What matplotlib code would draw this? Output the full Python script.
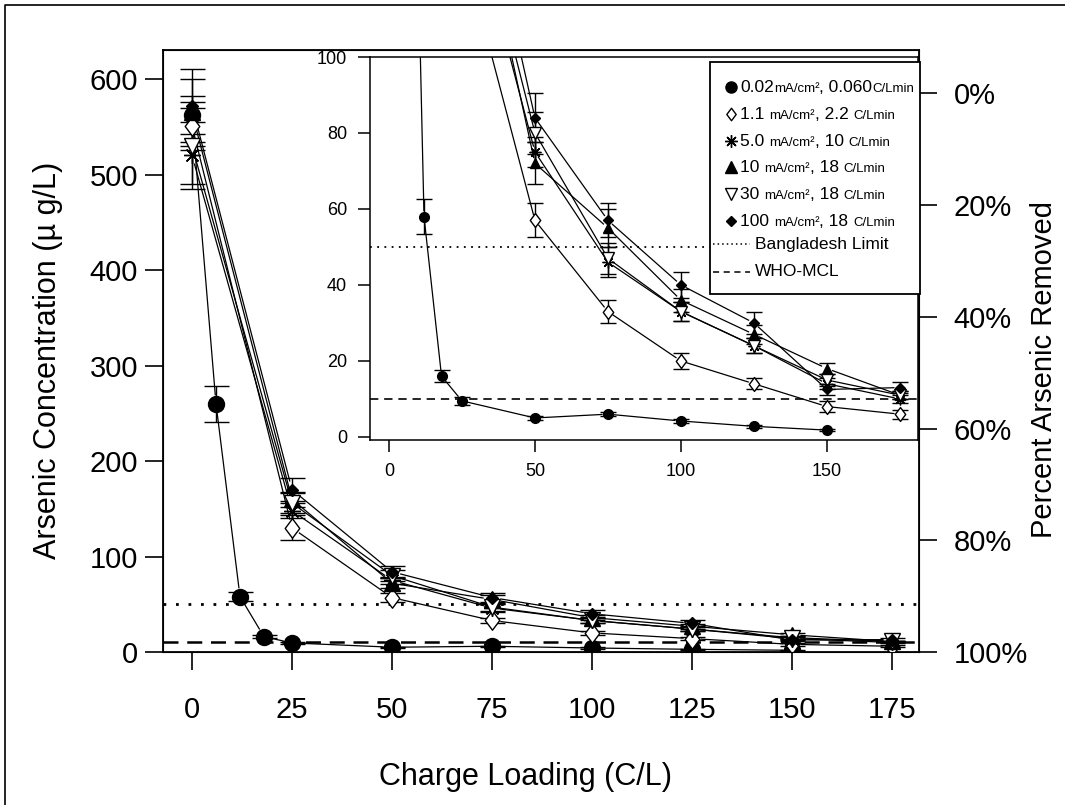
import numpy as np
import matplotlib
matplotlib.use('Agg')
import matplotlib.pyplot as plt
from matplotlib.lines import Line2D
from matplotlib.patches import Rectangle
from matplotlib.path import Path as MPath

plt.rcParams['font.family'] = ['Liberation Sans', 'DejaVu Sans']

# ---- data ----
x_low = [0, 6, 12, 18, 25, 50, 75, 100, 125, 150]
y_low = [562, 260, 58, 16, 9.5, 5, 6, 4.2, 2.8, 1.8]
e_low = [20, 19, 4.5, 1.5, 1, 0.6, 0.6, 0.6, 0.4, 0.3]

x_std = [0, 25, 50, 75, 100, 125, 150, 175]
y_1 = [551, 130, 57, 33, 20, 14, 8, 6]
e_1 = [25, 13, 4.5, 3, 2, 1.5, 1.5, 1.2]
y_5 = [520, 148, 75, 46, 33, 24, 14, 10]
e_5 = [35, 8, 4, 4, 2.5, 2, 1.5, 1]
y_10 = [565, 160, 72, 55, 36, 27, 18, 11]
e_10 = [35, 8, 5.5, 5, 3, 2.5, 1.5, 1]
y_30 = [530, 156, 80, 47, 33, 24, 15, 11]
e_30 = [40, 10, 5.5, 4, 2.5, 2, 1.5, 1]
y_100 = [572, 170, 84, 57, 40, 30, 12.5, 13]
e_100 = [38, 12, 6.5, 4.5, 3.5, 3, 1.5, 1.5]

bangladesh = 50
who_mcl = 10
c0 = 585.0  # concentration that maps to 0 % removed

leg_current = ['0.02', '1.1 ', '5.0 ', '10 ', '30 ', '100 ']
leg_rate = [', 0.060', ', 2.2 ', ', 10 ', ', 18 ', ', 18 ', ', 18 ']

W, H = 1065, 805
fig = plt.figure(figsize=(W / 100, H / 100), dpi=100)


def fx(px):
    return px / W


def fy(py):
    return 1 - py / H


diamond = MPath([(0, 1), (0.75, 0), (0, -1), (-0.75, 0), (0, 1)],
                [1, 2, 2, 2, 79])
styles = [
    dict(marker='o', mfc='k'),
    dict(marker=diamond, mfc='white'),
    dict(marker=(8, 2, 0), mfc='k'),
    dict(marker='^', mfc='k'),
    dict(marker='v', mfc='white'),
    dict(marker='D', mfc='k'),
]
msize_main = [11.5, 14, 12, 11, 12, 6.5]
msize_ins = [7, 10, 8.5, 7.5, 8, 5]


def gap_plot(ax, x, y, gap):
    pts = ax.transData.transform(np.column_stack([x, y]))
    inv = ax.transData.inverted()
    for p0, p1 in zip(pts[:-1], pts[1:]):
        d = np.hypot(*(p1 - p0))
        if d <= 2 * gap:
            continue
        u = (p1 - p0) / d
        seg = inv.transform(np.array([p0 + u * gap, p1 - u * gap]))
        ax.plot(seg[:, 0], seg[:, 1], color='k', lw=0.9, zorder=2)


def draw_series(ax, sizes, gap, cap):
    data = [(x_low, y_low, e_low), (x_std, y_1, e_1), (x_std, y_5, e_5),
            (x_std, y_10, e_10), (x_std, y_30, e_30), (x_std, y_100, e_100)]
    for (x, y, e), st, ms in zip(data, styles, sizes):
        gap_plot(ax, x, y, gap)
        ax.errorbar(x, y, yerr=e, fmt='none', ecolor='k', elinewidth=1.0,
                    capsize=cap, capthick=1.0, zorder=3)
        ax.plot(x, y, ls='none', marker=st['marker'], mfc=st['mfc'],
                mec='k', mew=1.0, ms=ms, zorder=4)


# ---- page frame ----
fig.add_artist(Line2D([fx(5), fx(5), 1.0], [0.0, fy(5), fy(5)],
                      transform=fig.transFigure, color='k', lw=1.2))

# ---- main axes ----
ax = fig.add_axes([fx(163), fy(652), fx(919) - fx(163), fy(50) - fy(652)])
ax.set_xlim(-7.25, 181.75)
ax.set_ylim(0, 630.4)
ax.set_xticks(range(0, 176, 25))
ax.set_yticks(range(0, 601, 100))
ax.tick_params(direction='out', length=13, width=1.2, labelsize=21, pad=5)
ax.tick_params(axis='x', pad=19)
for s in ax.spines.values():
    s.set_linewidth(1.3)
ax.axhline(bangladesh, color='k', ls=(0, (1, 3.5)), lw=2, zorder=1)
ax.axhline(who_mcl, color='k', ls=(0, (6, 3.5)), lw=1.8, zorder=1)
draw_series(ax, msize_main, 9, 9)
ax.set_ylabel('Arsenic Concentration (µ g/L)', fontsize=22)
ax.yaxis.set_label_coords(-0.132, 0.485)
ax.set_xlabel('Charge Loading (C/L)', fontsize=22)
ax.xaxis.set_label_coords(0.48, -0.182)

# right axis: percent removed
ax2 = ax.twinx()
ax2.set_ylim(100, 100 * (1 - 630.4 / c0))
ax2.set_yticks(range(0, 101, 20))
ax2.set_yticklabels([f'{v}%' for v in range(0, 101, 20)])
ax2.tick_params(direction='out', length=13, width=1.2, labelsize=21, pad=12)
ax2.set_ylabel('Percent Arsenic Removed', fontsize=21, rotation=90)
ax2.yaxis.set_label_coords(1.147, 0.47)

# ---- inset ----
ins = fig.add_axes([fx(370), fy(440), fx(918) - fx(370), fy(57) - fy(440)])
ins.set_xlim(-6.5, 181.2)
ins.set_ylim(-0.8, 100)
ins.set_xticks([0, 50, 100, 150])
ins.set_yticks(range(0, 101, 20))
ins.tick_params(direction='out', length=8.5, width=1.1, labelsize=13, pad=8)
for s in ins.spines.values():
    s.set_linewidth(1.1)
ins.axhline(bangladesh, color='k', ls=(0, (1, 3)), lw=1.3, zorder=1)
ins.axhline(who_mcl, color='k', ls=(0, (5, 3.5)), lw=1.2, zorder=1)
draw_series(ins, msize_ins, 6, 6)

# ---- legend drawn by hand ----
fig.add_artist(Rectangle((fx(710), fy(294)), fx(920) - fx(710), fy(62) - fy(294),
                         transform=fig.transFigure, fc='white', ec='k', lw=1.3,
                         zorder=10))
renderer = fig.canvas.get_renderer()
rows_y = [87, 114, 141, 167, 194, 221]
leg_ms = [8, 9, 9, 8, 8.5, 5]
for cur, rate, st, ms, ry in zip(leg_current, leg_rate, styles, leg_ms, rows_y):
    fig.add_artist(Line2D([fx(731)], [fy(ry)], transform=fig.transFigure,
                          marker=st['marker'], mfc=st['mfc'], mec='k', mew=1.0,
                          ms=ms, ls='none', zorder=11))
    xpos = 740
    for piece, fs in [(cur, 12.5), ('mA/cm²', 9.5), (rate, 12.5), ('C/Lmin', 9.5)]:
        t = fig.text(fx(xpos), fy(ry + 5), piece, fontsize=fs, va='baseline',
                     zorder=11)
        xpos = t.get_window_extent(renderer).x1
for ry, ls, txt in [(244, (0, (1, 2)), 'Bangladesh Limit'),
                    (272, (0, (4, 3)), 'WHO-MCL')]:
    fig.add_artist(Line2D([fx(713), fx(750)], [fy(ry), fy(ry)],
                          transform=fig.transFigure, color='k', lw=1.1,
                          ls=ls, zorder=11))
    fig.text(fx(755), fy(ry), txt, fontsize=12.5, va='center', zorder=11)

fig.savefig('out.png', dpi=100)
